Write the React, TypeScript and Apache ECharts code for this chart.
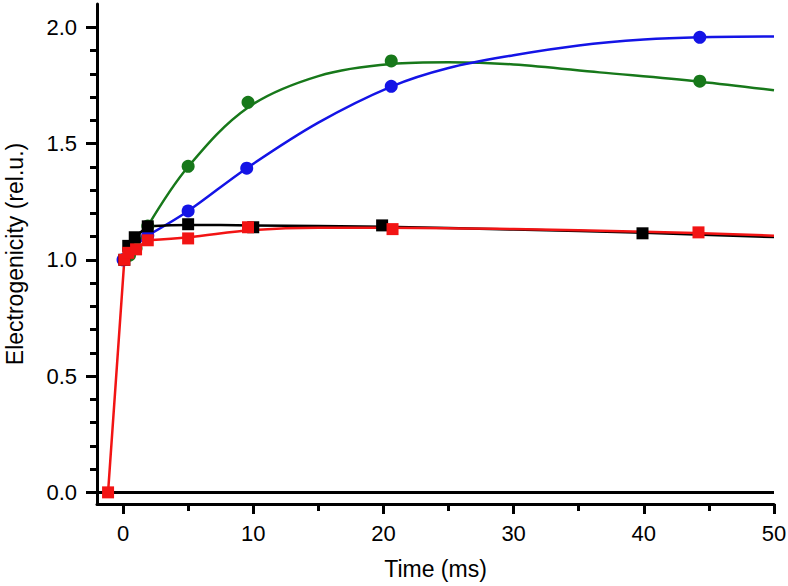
import React, { useEffect, useRef } from "react";
import * as echarts from "echarts";

// Measured points [time ms, electrogenicity]
const redPoints = [[-1.15, 0], [0.1, 1.0], [0.4, 1.03], [1.0, 1.045], [1.9, 1.084], [5, 1.092], [9.6, 1.14], [20.7, 1.132], [44.2, 1.118]];
const blackPoints = [[0.1, 1.0], [0.4, 1.06], [0.9, 1.097], [1.9, 1.144], [5, 1.153], [10, 1.14], [19.9, 1.148], [39.9, 1.114]];
const bluePoints = [[0, 1.0], [0.5, 1.04], [1.9, 1.105], [5, 1.21], [9.5, 1.394], [20.6, 1.746], [44.3, 1.957]];
const greenPoints = [[0.5, 1.02], [1.0, 1.05], [1.9, 1.145], [5, 1.402], [9.6, 1.677], [20.6, 1.855], [44.3, 1.768]];

// Early connecting segments
const redEarly = [[-1.15, 0], [0.1, 1.0], [0.4, 1.03], [1.0, 1.045], [1.9, 1.084]];
const blackEarly = [[0.1, 1.0], [0.4, 1.06], [0.9, 1.097], [1.9, 1.144]];
const blueEarly = [[0, 1.0], [0.5, 1.04], [1.9, 1.105]];
const greenEarly = [[0.5, 1.02], [1.0, 1.05], [1.9, 1.145]];

// Fitted curves
const redFit = [[1.9, 1.084], [5, 1.097], [10, 1.128], [15, 1.138], [20, 1.138], [30, 1.132], [40, 1.121], [50, 1.104]];
const blackFit = [[1.9, 1.144], [5, 1.15], [10, 1.148], [20, 1.142], [30, 1.13], [40, 1.116], [50, 1.098]];
const blueFit = [[1.9, 1.105], [5, 1.21], [9.5, 1.394], [15, 1.59], [20.6, 1.745], [25, 1.825], [30, 1.88], [35, 1.922], [40, 1.947], [44.3, 1.957], [50, 1.96]];
const greenFit = [[1.9, 1.145], [5, 1.4], [9.6, 1.655], [15, 1.79], [20.6, 1.842], [25, 1.849], [30, 1.84], [36.6, 1.806], [44.3, 1.766], [50, 1.729]];

const xMajorTicks = [0, 10, 20, 30, 40, 50];
const xMinorTicks = [5, 15, 25, 35, 45];
const yMajorTicks = [0, 0.5, 1.0, 1.5, 2.0];
const yMinorTicks = [0.1, 0.2, 0.3, 0.4, 0.6, 0.7, 0.8, 0.9, 1.1, 1.2, 1.3, 1.4, 1.6, 1.7, 1.8, 1.9];

const RED = "#f21414";
const BLACK = "#000000";
const BLUE = "#1414e6";
const GREEN = "#17781a";
const FONT = "'Liberation Sans', Arial, Helvetica, sans-serif";

export default function App() {
  const ref = useRef<HTMLDivElement>(null);
  useEffect(() => {
    if (!ref.current) return;
    const chart = echarts.init(ref.current, null, { renderer: "svg" });
    const lineS = (data: number[][], color: string, smooth: boolean, z: number) => ({
      type: "line",
      data,
      smooth: smooth ? 0.35 : false,
      showSymbol: false,
      symbol: "none",
      lineStyle: { color, width: 2.5 },
      z,
      silent: true,
    });
    const scatterS = (data: number[][], color: string, symbol: string, size: number, z: number) => ({
      type: "scatter",
      data,
      symbol,
      symbolSize: size,
      itemStyle: { color, opacity: 1 },
      z,
      silent: true,
    });
    chart.setOption({
      animation: false,
      backgroundColor: "#ffffff",
      grid: { left: 97, top: 4, right: 14, bottom: 82, containLabel: false, outerBoundsMode: "none" },
      xAxis: [
        {
          type: "value",
          min: -2,
          max: 50,
          name: "Time (ms)",
          nameLocation: "middle",
          nameGap: 53,
          nameTextStyle: { fontFamily: FONT, fontSize: 23, color: "#000" },
          axisLine: { show: true, onZero: false, lineStyle: { color: "#000", width: 3 } },
          axisTick: { show: true, customValues: xMajorTicks, length: 10, lineStyle: { color: "#000", width: 3 } },
          axisLabel: { show: true, customValues: xMajorTicks, margin: 18, fontFamily: FONT, fontSize: 22, color: "#000" },
          splitLine: { show: false },
        },
        {
          type: "value",
          min: -2,
          max: 50,
          position: "bottom",
          axisLine: { show: false, onZero: false },
          axisTick: { show: true, customValues: xMinorTicks, length: 7, lineStyle: { color: "#000", width: 3 } },
          axisLabel: { show: false },
          splitLine: { show: false },
        },
      ],
      yAxis: [
        {
          type: "value",
          min: -0.05,
          max: 2.1,
          name: "Electrogenicity (rel.u.)",
          nameLocation: "middle",
          nameGap: 71,
          nameTextStyle: { fontFamily: FONT, fontSize: 23, color: "#000" },
          axisLine: { show: true, onZero: false, lineStyle: { color: "#000", width: 3 } },
          axisTick: { show: true, customValues: yMajorTicks, length: 11, lineStyle: { color: "#000", width: 3 } },
          axisLabel: {
            show: true,
            customValues: yMajorTicks,
            margin: 20,
            fontFamily: FONT,
            fontSize: 22,
            color: "#000",
            formatter: (v: number) => v.toFixed(1),
          },
          splitLine: { show: false },
        },
        {
          type: "value",
          min: -0.05,
          max: 2.1,
          position: "left",
          axisLine: { show: false, onZero: false },
          axisTick: { show: true, customValues: yMinorTicks, length: 7, lineStyle: { color: "#000", width: 3 } },
          axisLabel: { show: false },
          splitLine: { show: false },
        },
      ],
      series: [
        {
          type: "line",
          data: [],
          markLine: {
            silent: true,
            symbol: "none",
            label: { show: false },
            lineStyle: { color: "#000", width: 3, type: "solid" },
            data: [{ yAxis: 0 }],
          },
          z: 1,
        },
        lineS(greenEarly, GREEN, false, 2),
        lineS(greenFit, GREEN, true, 2),
        lineS(blueEarly, BLUE, false, 3),
        lineS(blueFit, BLUE, true, 3),
        lineS(blackEarly, BLACK, false, 4),
        lineS(blackFit, BLACK, true, 4),
        lineS(redEarly, RED, false, 5),
        lineS(redFit, RED, true, 5),
        scatterS(greenPoints, GREEN, "circle", 13, 6),
        scatterS(bluePoints, BLUE, "circle", 13, 7),
        scatterS(blackPoints, BLACK, "rect", 12, 8),
        scatterS(redPoints, RED, "rect", 12, 9),
      ],
    });
    return () => chart.dispose();
  }, []);
  return <div ref={ref} style={{ width: 788, height: 586, position: "absolute", left: 0, top: 0 }} />;
}
